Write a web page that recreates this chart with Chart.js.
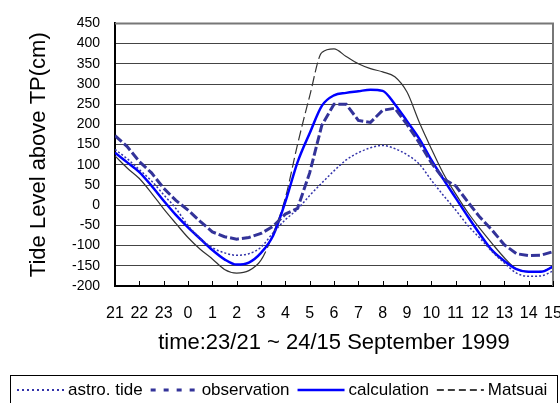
<!DOCTYPE html>
<html>
<head>
<meta charset="utf-8">
<script src="https://cdn.jsdelivr.net/npm/chart.js@4.4.0/dist/chart.umd.min.js"></script>
<style>
  html, body { margin: 0; padding: 0; background: #fff; }
  #wrap { width: 560px; height: 403px; }
</style>
</head>
<body>
<div id="wrap"><canvas id="tide" width="560" height="403"></canvas></div>
<script>
// hours since 23 Sep 21:00, half-hour steps
const hours = [0, 0.5, 1, 1.5, 2, 2.5, 3, 3.5, 4, 4.5, 5, 5.5, 6, 6.5, 7, 7.5, 8, 8.5, 9,
  9.5, 10, 10.5, 11, 11.5, 12, 12.5, 13, 13.5, 14, 14.5, 15, 15.5, 16, 16.5, 17, 17.5, 18];
const hourLabels = ["21", "22", "23", "0", "1", "2", "3", "4", "5", "6", "7", "8", "9",
  "10", "11", "12", "13", "14", "15"];

// tide level above TP (cm)
const astroTide = [138, 115, 88, 60, 26, -8, -50, -82, -105, -118, -124, -120, -104, -68, -36, -10, 24, 55, 85,
  112, 130, 142, 148, 140, 125, 102, 62, 24, -12, -50, -82, -115, -143, -168, -176, -175, -163];
const observation = [172, 145, 108, 80, 42, 12, -12, -40, -66, -78, -84, -80, -70, -52, -22, -8, 80, 198, 250,
  250, 210, 205, 235, 240, 200, 155, 105, 65, 48, 8, -30, -62, -98, -120, -125, -124, -115];
const calculation = [130, 106, 82, 48, 11, -24, -55, -83, -111, -134, -147, -142, -118, -75, 8, 106, 178, 246, 272,
  278, 282, 286, 283, 250, 208, 165, 112, 64, 18, -28, -72, -112, -138, -158, -165, -165, -152];
const matsuai = [122, 92, 66, 30, -9, -45, -80, -109, -133, -159, -168, -162, -136, -70, 18, 150, 270, 378, 387,
  368, 350, 338, 330, 318, 280, 206, 140, 78, 28, -18, -58, -95, -130, -158, -165, -164, -153];

const narrow = "'Liberation Sans Narrow', 'Arial Narrow', 'Liberation Sans', Arial, sans-serif";
const sans = "'Liberation Sans', Arial, sans-serif";

const toPoints = (arr) => hours.map((h, i) => ({ x: h, y: arr[i] }));

// frame, inner tick marks and boxed legend
const decorations = {
  id: "decorations",
  afterDatasetsDraw(chart) {
    const { ctx, chartArea: a, scales: { x } } = chart;
    ctx.save();
    ctx.strokeStyle = "#777";
    ctx.lineWidth = 2;
    ctx.beginPath();
    ctx.moveTo(a.left, a.top);
    ctx.lineTo(a.right, a.top);
    ctx.lineTo(a.right, a.bottom);
    ctx.stroke();

    ctx.strokeStyle = "#000";
    ctx.lineWidth = 1;
    ctx.beginPath();
    x.ticks.forEach((t) => {
      const px = Math.round(x.getPixelForValue(t.value)) + 0.5;
      ctx.moveTo(px, a.bottom);
      ctx.lineTo(px, a.bottom - 5);
    });
    ctx.stroke();
    ctx.restore();
  },
  afterDraw(chart) {
    const { ctx } = chart;
    ctx.save();
    ctx.strokeStyle = "#000";
    ctx.lineWidth = 1;
    ctx.strokeRect(10.5, 375.5, 547, 40);

    const legendStyles = [
      { dash: [2, 3], width: 2 },
      { dash: [5, 8], width: 3 },
      { dash: [], width: 2.5 },
      { dash: [7, 4], width: 1.5, color: "#000" },
    ];
    ctx.font = "17px " + sans;
    ctx.textBaseline = "middle";
    let lx = 17;
    const ly = 390;
    chart.data.datasets.forEach((ds, i) => {
      const st = legendStyles[i];
      ctx.strokeStyle = st.color || ds.borderColor;
      ctx.lineWidth = st.width;
      ctx.setLineDash(st.dash);
      ctx.beginPath();
      ctx.moveTo(lx, ly);
      ctx.lineTo(lx + 47, ly);
      ctx.stroke();
      ctx.setLineDash([]);
      lx += 51;
      ctx.fillStyle = "#000";
      ctx.fillText(ds.label, lx, ly);
      lx += ctx.measureText(ds.label).width + 8;
    });
    ctx.restore();
  },
};

new Chart(document.getElementById("tide"), {
  type: "line",
  data: {
    datasets: [
      {
        label: "astro. tide",
        data: toPoints(astroTide),
        borderColor: "#3333aa",
        borderWidth: 1.5,
        borderDash: [2, 2],
        cubicInterpolationMode: "monotone",
      },
      {
        label: "observation",
        data: toPoints(observation),
        borderColor: "#333399",
        borderWidth: 3,
        borderDash: [9, 3],
      },
      {
        label: "calculation",
        data: toPoints(calculation),
        borderColor: "#0000ff",
        borderWidth: 2.5,
        cubicInterpolationMode: "monotone",
      },
      {
        label: "Matsuai",
        data: toPoints(matsuai),
        borderColor: "#333333",
        borderWidth: 1.2,
        cubicInterpolationMode: "monotone",
        segment: {
          // steep rise shows as long dashes, the rest looks solid
          borderDash: (c) => (c.p1.parsed.y - c.p0.parsed.y > 60 ? [10, 4] : undefined),
        },
      },
    ],
  },
  options: {
    responsive: false,
    animation: false,
    events: [],
    elements: { point: { radius: 0 } },
    layout: { padding: { top: 20, right: 7, bottom: 47, left: 0 } },
    plugins: { legend: { display: false }, tooltip: { enabled: false } },
    scales: {
      x: {
        type: "linear",
        min: 0,
        max: 18,
        afterFit: (s) => {
          s.height = 70;
          s.paddingLeft = 0;
          s.paddingRight = 0;
        },
        grid: { display: false },
        border: { color: "#000", width: 2 },
        ticks: {
          stepSize: 1,
          autoSkip: false,
          maxRotation: 0,
          padding: 10,
          color: "#000",
          font: { family: narrow, size: 16 },
          callback: (v) => hourLabels[v],
        },
        title: {
          display: true,
          text: "time:23/21 ~ 24/15 September 1999",
          color: "#000",
          font: { family: sans, size: 22 },
          padding: { top: 0, bottom: 0 },
        },
      },
      y: {
        min: -200,
        max: 450,
        afterFit: (s) => { s.width = 115; },
        grid: { color: "#444", lineWidth: 1, drawTicks: false },
        border: { color: "#000", width: 2 },
        ticks: {
          stepSize: 50,
          padding: 15,
          color: "#000",
          font: { family: narrow, size: 14 },
        },
        title: {
          display: true,
          text: "Tide Level above TP(cm)",
          color: "#000",
          font: { family: sans, size: 22 },
          padding: { top: 26, bottom: 0 },
        },
      },
    },
  },
  plugins: [decorations],
});
</script>
</body>
</html>
